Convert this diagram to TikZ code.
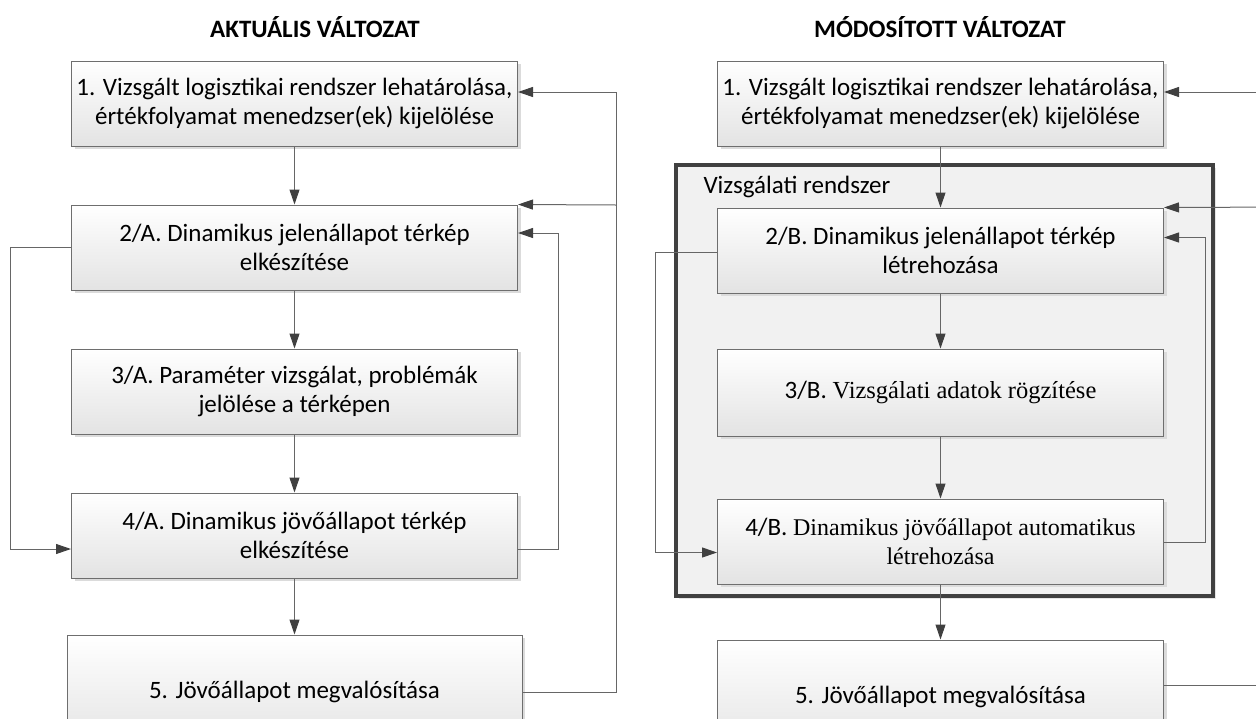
\documentclass[tikz,border=0pt]{standalone}
\usepackage{fontspec}
\setmainfont{Carlito}
\newfontfamily\timesfont{Liberation Serif}
\definecolor{boxline}{RGB}{110,110,110}
\definecolor{arrowgray}{RGB}{64,64,64}
\definecolor{framefill}{RGB}{241,241,241}
\usetikzlibrary{arrows.meta,positioning,shadows}

\begin{document}
\begin{tikzpicture}[x=1pt,y=-1pt,
    stepbox/.style={draw=boxline, line width=1pt, top color=white, bottom color=black!11,
      drop shadow={shadow xshift=3pt, shadow yshift=-3pt, fill=black!14, opacity=1},
      minimum width=446pt, minimum height=85pt, align=center,
      font=\fontsize{25}{29}\selectfont},
    arr/.style={draw=black!60, line width=1pt, -{Triangle[length=15pt,width=10pt,color=arrowgray]}},
    title/.style={font=\fontsize{25}{29}\selectfont\bfseries}]
  \useasboundingbox (0,0) rectangle (1256,718);
  \clip (0,0) rectangle (1256,718);

  % headings
  \node[title] (titleA) at (315,27) {AKTUÁLIS VÁLTOZAT};
  \node[title] (titleB) at (940,27) {MÓDOSÍTOTT VÁLTOZAT};

  % left column: current version
  \node[stepbox] (a1) at (294.5,103.5) {1. Vizsgált logisztikai rendszer lehatárolása,\\értékfolyamat menedzser(ek) kijelölése};
  \node[stepbox, below=58pt of a1] (a2) {2/A. Dinamikus jelenállapot térkép\\elkészítése};
  \node[stepbox, below=58pt of a2] (a3) {3/A. Paraméter vizsgálat, problémák\\jelölése a térképen};
  \node[stepbox, below=58pt of a3] (a4) {4/A. Dinamikus jövőállapot térkép\\elkészítése};
  \node[stepbox, below=56pt of a4, minimum width=455pt, minimum height=114pt] (a5) {5. Jövőállapot megvalósítása};

  % right column: modified version
  \node[draw=arrowgray, line width=4pt, fill=framefill, minimum width=537pt, minimum height=431pt,
        drop shadow={shadow xshift=3pt, shadow yshift=-3pt, fill=black!10, opacity=1}] (frame) at (944.5,380.5) {};
  \node[anchor=west, font=\fontsize{25}{29}\selectfont] (frameLabel) at (700,187) {Vizsgálati rendszer};

  \node[stepbox] (b1) at (940.5,103.5) {1. Vizsgált logisztikai rendszer lehatárolása,\\értékfolyamat menedzser(ek) kijelölése};
  \node[stepbox, below=61pt of b1] (b2) {2/B. Dinamikus jelenállapot térkép\\létrehozása};
  \node[stepbox, below=55pt of b2, minimum height=87pt] (b3) {3/B. {\timesfont\fontsize{24.5}{29}\selectfont Vizsgálati adatok rögzítése}};
  \node[stepbox, below=62pt of b3] (b4) {4/B. {\timesfont\fontsize{24}{25}\selectfont Dinamikus jövőállapot automatikus}\\{\timesfont\fontsize{24}{25}\selectfont létrehozása}};
  \node[stepbox, below=55pt of b4, minimum height=114pt] (b5) {5. Jövőállapot megvalósítása};

  % straight steps
  \draw[arr] (a1) -- (a2);
  \draw[arr] (a2) -- (a3);
  \draw[arr] (a3) -- (a4);
  \draw[arr] (a4) -- (a5);
  \draw[arr] (b1) -- (b2);
  \draw[arr] (b2) -- (b3);
  \draw[arr] (b3) -- (b4);
  \draw[arr] (b4) -- (b5);

  % feedback loops, left
  \draw[arr] (a2.west) -- ++(-61,0) |- ([yshift=-13.5pt]a4.west);
  \draw[arr] ([yshift=-13.5pt]a4.east) -- ++(40,0) |- ([yshift=14.5pt]a2.east);
  \draw[arr] (a5.east) -- ++(94,0) |- ([yshift=11.5pt]a1.east);
  \coordinate (loopA) at (616,205);
  \draw[arr] (loopA) -- (a2.north east);

  % feedback loops, right
  \draw[arr] ([yshift=-2pt]b2.west) -- ++(-62,0) |- ([yshift=-11pt]b4.west);
  \draw[arr] ([yshift=-1pt]b4.east) -- ++(41,0) |- ([yshift=13pt]b2.east);
  \draw[arr] ([yshift=12pt]b5.east) -- ++(130,0) |- ([yshift=11.5pt]b1.east);
  \coordinate (loopB) at (1294,207);
  \draw[arr] (loopB) -- (b2.north east);
\end{tikzpicture}
\end{document}
